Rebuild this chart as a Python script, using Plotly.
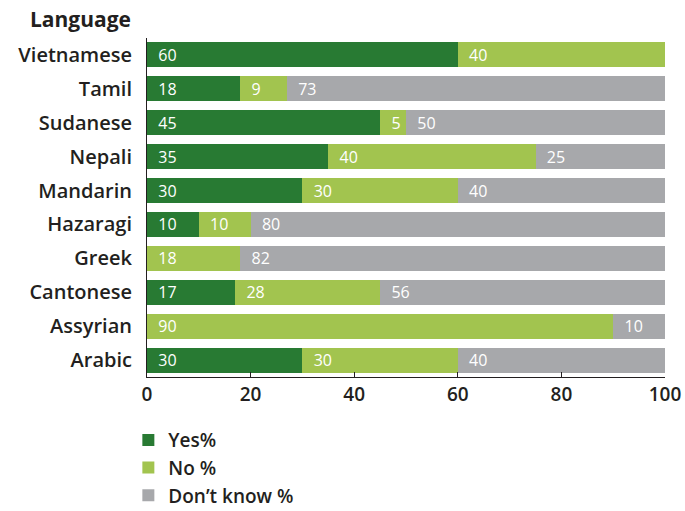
import plotly.graph_objects as go

languages = ["Vietnamese", "Tamil", "Sudanese", "Nepali", "Mandarin",
             "Hazaragi", "Greek", "Cantonese", "Assyrian", "Arabic"]
yes_pct = [60, 18, 45, 35, 30, 10, 0, 17, 0, 30]
no_pct = [40, 9, 5, 40, 30, 10, 18, 28, 90, 30]
dont_know_pct = [0, 73, 50, 25, 40, 80, 82, 56, 10, 40]
series_names = ["Yes%", "No %", "Don\u2019t know %"]
colors = ["#287A33", "#A2C44F", "#A7A8AB"]
x_ticks = [0, 20, 40, 60, 80, 100]

FONT = "'Open Sans', sans-serif"
INK = "#231F20"

fig = go.Figure()
for name, vals, col in zip(series_names, [yes_pct, no_pct, dont_know_pct], colors):
    fig.add_trace(go.Bar(
        y=languages, x=vals, name=name, orientation="h",
        marker=dict(color=col, line=dict(width=0)),
        text=["\u00a0\u00a0" + str(v) if v > 0 else "" for v in vals],
        textposition="inside", insidetextanchor="start", textangle=0,
        constraintext="none",
        textfont=dict(color="white", size=16, family=FONT),
        legendgroup=name, hoverinfo="x+y+name",
    ))

fig.update_layout(
    barmode="stack", bargap=0.26,
    width=685, height=511,
    margin=dict(l=147, r=20, t=38, b=134, autoexpand=False),
    paper_bgcolor="white", plot_bgcolor="white",
    font=dict(family=FONT, color=INK),
    legend=dict(
        x=-0.036, xanchor="left", y=-0.13, yanchor="top",
        orientation="v", traceorder="normal", tracegroupgap=13,
        font=dict(size=19, family=FONT, color=INK, weight=600),
        itemwidth=30,
    ),
    showlegend=True,
)
fig.update_xaxes(
    range=[0, 100], tickvals=x_ticks, showgrid=False, zeroline=False,
    showline=True, linecolor=INK, linewidth=1, automargin=False,
    ticks="inside", ticklen=5, tickcolor=INK,
    ticklabelstandoff=0,
    tickfont=dict(size=19, family=FONT, color=INK, weight=600),
)
fig.update_yaxes(
    categoryorder="array", categoryarray=languages, autorange="reversed",
    showgrid=False, showline=True, linecolor=INK, linewidth=1,
    ticks="", ticklabelstandoff=10, automargin=False,
    tickfont=dict(size=20, family=FONT, color=INK, weight=600),
)
fig.add_annotation(
    text="<b>Language</b>", xref="paper", yref="paper",
    x=-0.027, y=1.0, xanchor="right", yanchor="bottom", yshift=3,
    showarrow=False, font=dict(size=21, family=FONT, color=INK),
)

fig.write_html("out.html")
